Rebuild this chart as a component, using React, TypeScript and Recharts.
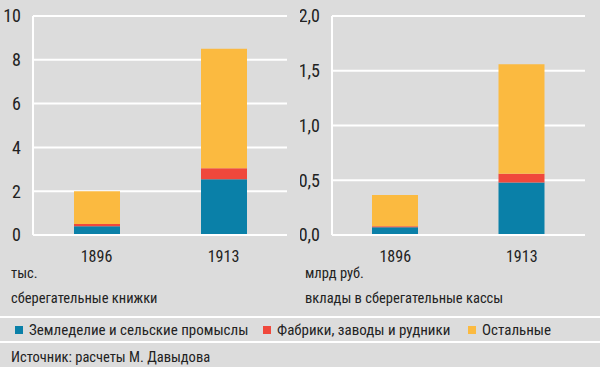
import React from 'react';
import { BarChart, Bar, XAxis, YAxis, CartesianGrid } from 'recharts';

const years = ['1896', '1913'];
const booksAgri = [0.4, 2.55];
const booksFactory = [0.1, 0.5];
const booksOther = [1.5, 5.45];
const depAgri = [0.07, 0.48];
const depFactory = [0.01, 0.08];
const depOther = [0.285, 1.0];
const booksTicks = [0, 2, 4, 6, 8, 10];
const depTicks = [0, 0.5, 1.0, 1.5, 2.0];
const seriesNames = ['Земледелие и сельские промыслы', 'Фабрики, заводы и рудники', 'Остальные'];
const colors = ['#0a80a8', '#f0483c', '#fbba40'];

const booksData = years.map((y, i) => ({ year: y, a: booksAgri[i], f: booksFactory[i], o: booksOther[i] }));
const depData = years.map((y, i) => ({ year: y, a: depAgri[i], f: depFactory[i], o: depOther[i] }));

const FONT = '"Liberation Sans Narrow", "Roboto Condensed", "DejaVu Sans Condensed", sans-serif';
const TXT = '#222';

function Chart({ data, ticks, domainMax, fmt, left, yWidth, right }: any) {
  return (
    <div style={{ position: 'absolute', left, top: 0 }}>
      <BarChart width={300} height={265} data={data} margin={{ top: 16, right, left: 0, bottom: 0 }} barSize={46}>
        <CartesianGrid stroke="#ffffff" strokeWidth={2} vertical={false} />
        <XAxis dataKey="year" height={30} axisLine={{ stroke: '#fff', strokeWidth: 2 }} tickLine={false} tickMargin={10}
          tick={{ fill: TXT, fontSize: 16, fontFamily: FONT }} />
        <YAxis width={yWidth} domain={[0, domainMax]} ticks={ticks} interval={0} tickFormatter={fmt}
          axisLine={{ stroke: '#fff', strokeWidth: 2 }} tickLine={false} tickMargin={6}
          tick={{ fill: TXT, fontSize: 18, fontFamily: FONT }} />
        <YAxis yAxisId="r" orientation="right" width={0} tick={false} tickLine={false}
          axisLine={{ stroke: '#fff', strokeWidth: 2 }} />
        <Bar dataKey="a" stackId="s" fill={colors[0]} isAnimationActive={false} />
        <Bar dataKey="f" stackId="s" fill={colors[1]} isAnimationActive={false} />
        <Bar dataKey="o" stackId="s" fill={colors[2]} isAnimationActive={false} />
      </BarChart>
    </div>
  );
}

export default function App() {
  const textStyle: React.CSSProperties = { position: 'absolute', fontFamily: FONT, color: TXT, whiteSpace: 'nowrap', lineHeight: '18px' };
  const legendX = [15, 263, 468];
  return (
    <div style={{ position: 'absolute', left: 0, top: 0, width: 600, height: 367, background: '#dcdcdc', overflow: 'hidden' }}>
      <Chart data={booksData} ticks={booksTicks} domainMax={10} fmt={(v: number) => String(v)} left={0} yWidth={33} right={13} />
      <Chart data={depData} ticks={depTicks} domainMax={2} fmt={(v: number) => v.toFixed(1).replace('.', ',')} left={300} yWidth={32} right={15} />
      <div style={{ ...textStyle, left: 11, top: 265, fontSize: 14.5 }}>тыс.</div>
      <div style={{ ...textStyle, left: 11, top: 290, fontSize: 14.5 }}>сберегательные книжки</div>
      <div style={{ ...textStyle, left: 305, top: 265, fontSize: 14.5 }}>млрд руб.</div>
      <div style={{ ...textStyle, left: 305, top: 290, fontSize: 14.5 }}>вклады в сберегательные кассы</div>
      <div style={{ position: 'absolute', left: 0, top: 316, width: 600, height: 2, background: '#fff' }} />
      {seriesNames.map((n, i) => (
        <div key={n} style={{ position: 'absolute', left: legendX[i], top: 321, height: 18, display: 'flex', alignItems: 'center' }}>
          <div style={{ width: 8, height: 8, background: colors[i], marginRight: 6 }} />
          <span style={{ fontFamily: FONT, fontSize: 15, color: TXT, whiteSpace: 'nowrap' }}>{n}</span>
        </div>
      ))}
      <div style={{ position: 'absolute', left: 0, top: 341, width: 600, height: 2, background: '#fff' }} />
      <div style={{ ...textStyle, left: 11, top: 349, fontSize: 14.5 }}>Источник: расчеты М. Давыдова</div>
    </div>
  );
}
